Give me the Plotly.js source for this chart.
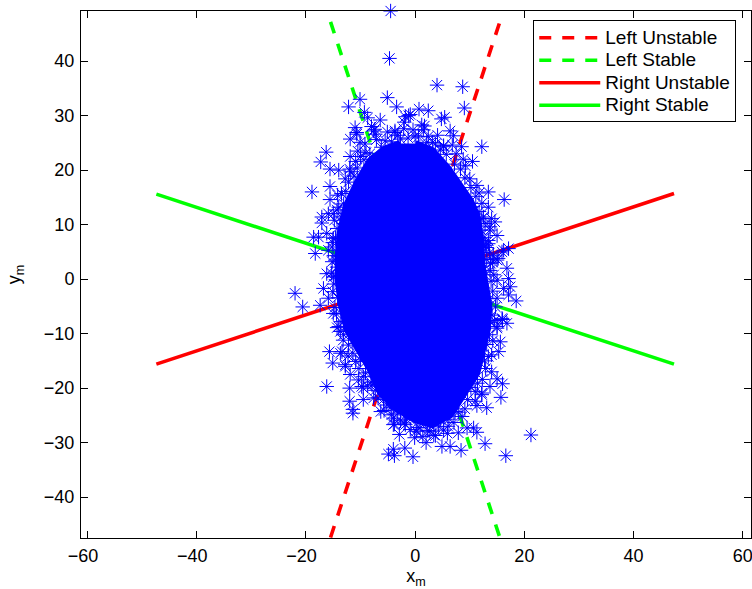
<!DOCTYPE html>
<html>
<head>
<meta charset="utf-8">
<script src="https://cdn.plot.ly/plotly-3.0.1.min.js"></script>
<style>html,body{margin:0;padding:0;background:#fff;overflow:hidden}</style>
</head>
<body>
<div id="chart" style="width:752px;height:589px"></div>
<script>
var leftUnstableX = [-15.5, 15.5];
var leftUnstableY = [-47.4, 47.2];
var leftStableX = [-15.5, 15.5];
var leftStableY = [47.2, -47.4];
var rightUnstableX = [-47.4, 47.4];
var rightUnstableY = [-15.6, 15.7];
var rightStableX = [-47.4, 47.4];
var rightStableY = [15.6, -15.6];

var xTickVals = [-60,-40,-20,0,20,40,60];
var xTickText = ['\u221260\u2002','\u221240\u2002','\u221220\u2002','0','20','40','60'];
var yTickVals = [-40,-30,-20,-10,0,10,20,30,40];

var coreX = [0,3.1,6,7.9,10.1,11.3,12,12.2,13,13.5,13.2,12.3,11.3,8.2,6.4,3.1,0,-3.7,-6.4,-8.2,-10.4,-12.4,-13.5,-14.1,-14.1,-13.7,-12.6,-10.4,-8.2,-5.5,-2.7];
var coreY = [24.9,23.6,20.3,17.6,14.4,11.7,7.1,2.6,-1.1,-4.8,-9.3,-13,-17.2,-22.1,-24.9,-26.7,-25.8,-23.6,-20.7,-16.6,-13,-9.3,-4.8,-0.2,4.4,8.6,13.5,18.1,21.8,23.9,24.9];

var pointX = [-4.5,-4.7,4.0,8.7,-5.1,-10.1,-12.2,9.0,-3.4,-9.3,0.7,2.4,-0.9,-1.8,-6.4,4.8,5.4,-8.7,-2.0,1.2,-11,-7.4,-8,-3.7,6.4,7,-11.9,-10.7,-7.3,12.2,-16.3,-17.3,-15.6,-14,-18.9,-15.6,-14.2,-11.9,-10,8.5,7.5,9.2,10.5,10,11.3,13.4,16.3,11.7,3.7,5.2,0,2.1,
-15.6,-17.1,-17.1,-15.9,-18.6,-17.7,-16.2,-18.3,-15.9,-15,-16.2,-15.2,-16.8,-22,-20.6,-17.4,-15.9,-15,-14,-15.7,-13.7,-15,-14.3,
13.4,12.2,14,14.6,15,13.7,13.4,17.1,15.9,14.3,15.2,16.8,17.1,15,16.2,17.4,17.1,18.5,15,13.7,15.9,16.8,15,15.6,15.3,14,
16,15,14,16,15,13.7,15.7,12.2,13.1,11.3,10.7,11.3,12.8,16.6,8.4,6.4,4.9,2,3.7,5.9,7.9,9.5,21.2,-0.4,7.3,11,0.5,2.7,4.6,6,
-16.2,-15.1,-12,-12,-11.4,-11.4,-9.5,-6.3,-4,-1.8,-2.9,-0.1,-4.9,-4,-3.8,-1.9,-12.8,-10.4,-9.5,-7.6,-4,0.9,2.7,12.2,
-14.3,-13.4,-12.8,-11.9,-13.2,-11,-10,-9.5,-9.8,-7.9,-5.8,-4.6,-3.8,-2,
-1.2,-10.7,-7.6,-3.7,-10.1,-5.5,-2.7,-12,-12.8,-14,-15,-15.2,-14.6,-13.1,
1.5,5.2,12.5,13.7,13.4,16.2,15,
-10.5,-9.2,-8.3,-7.1,-6.2,-5.1,-4.3,-3.2,-2.1,-1.3,-0.4,0.6,1.7,2.4,3.2,4.1,4.6,5.7,6.8,7.2,8.3,9.1,8.8,10.2,
11.1,10.6,12.2,11.7,12.8,12.1,11.9,12.6,12.4,13.1,12.9,13.8,13.9,14.4,14.2,13.6,14.7,14.1,13.8,14.5,13.6,14.2,13.1,13.4,12.7,12.9,12.3,11.4,11,10.2,9.6,9.1,8.6,7.9,7.1,6.2,5.2,4.3,3.4,2.3,1.4,0.2,-0.9,-1.6,-2.7,-3.2,-4.3,-5.2,-5.7,-6.8,-7.3,-8.1,-8.7,-9.1,-10.3,-10.9,-11.4,-12.3,-12.2,-13.1,-13.7,-13.6,-14.4,-14.7,-14.2,-15.1,-14.9,-15.3,-14.6,-14.9,-15.1,-14.6,-14.3,-14.8,-13.6,-14.3,-13.1,-13.5,-12.7,-12.2,-11.2,-11.8,-10.6,-10.9,-9.4,-9,
13.6,14.2,13.1,12.9];
var pointY = [49.2,40.5,35.6,35.3,33.3,33,31.6,31.4,31.6,30.6,31.2,30.9,30.2,29.8,29.2,29.4,29.7,29.6,28.8,28.3,27.8,27.5,28,27.2,27.2,26.3,25.7,26.6,26.6,24.3,23.3,21.5,20.2,20,16,17,15.4,22.5,22.5,24.3,23,20.8,21.6,18.4,17.2,16,14.6,15.8,24.8,24.3,26.3,25.1,
14.6,11.4,10.3,12,7.7,7.7,8.4,4.7,5.3,7.5,1,3.2,-1.7,-2.6,-5.1,-4.8,-3.5,-6.3,-8.7,-13.3,-13.6,0.4,2.2,
13.2,11.1,11.1,10.5,8,9,6.5,5.6,5,4.4,3.8,2,0.1,-0.2,-1.7,-1.4,-2.9,-4,-3.5,1.6,-7.2,-8.1,-8.7,-11.5,-13.3,-13.9,
-7.4,-9,-17,-19.2,-18.3,-19.7,-21.7,-21.2,-23.6,-23.2,-27.3,-28.1,-30.2,-32.4,-31.4,-30.7,-30.7,-30,-28.7,-28.3,-28.2,-27.3,-28.6,-32.6,-24.3,-22.4,-27.2,-26.7,-25.8,-27,
-19.7,-15.4,-20,-22.4,-23.9,-24.6,-22.1,-24.3,-26.7,-26.7,-28.5,-29.1,-32.1,-31.2,-32.4,-31,-15.7,-18.5,-20,-21.8,-25.5,-27.3,-27.9,-20.9,
-8.9,-13.3,-16,-17.5,-11.2,-11.8,-14.8,-17.9,-19.7,-19.4,-22.1,-23.6,-26.6,-26.4,
30,26.9,27.2,26.9,25.1,25.4,25.7,20.2,18.4,13.2,12,5.9,3.5,10.2,
27.4,24.5,11.4,9.6,7.1,5.3,3.5,
23.5,24.8,23,25.6,24.2,27,25.2,26.4,27.6,25.9,27.4,26.1,28.1,26.2,25.1,26.4,23.7,22.9,24.6,21.1,20.2,18.6,22,16.8,
15.2,13.3,13.9,12.4,10.2,9,6.8,7.6,4.9,3.6,1.3,2.9,-0.4,0.8,-2.2,-3.6,-5.1,-6.6,-8,-7.6,-10.2,-11.3,-12,-14.2,-15,-16.4,-18.4,-19.1,-20.6,-19.9,-22.1,-23.8,-25.2,-24.4,-26.3,-25.7,-27.7,-27.1,-28.6,-27.8,-28.9,-27.9,-27.6,-25.7,-26,-24.6,-24.9,-23.1,-24.1,-21.8,-20.4,-18.9,-19.6,-17.2,-16.4,-15.1,-13.6,-14.1,-12.1,-10.2,-9.6,-7.8,-6.4,-5.2,-3.4,-2.3,-0.9,1.1,0.6,4.3,6.7,7.6,9.3,10.8,11.4,12.7,13.8,15.7,16.1,17.8,18.9,19.7,20.4,21.6,21.9,23.2,
4.8,3.1,5.8,6.2];

var dash = '12px,11px';
function legendName(t){ return '<span style="font-size:19px">' + t + '</span>'; }
var traces = [
  {x:leftUnstableX,y:leftUnstableY,mode:'lines',name:legendName('Left Unstable'),line:{color:'#ff0000',width:3.6,dash:dash}},
  {x:leftStableX,y:leftStableY,mode:'lines',name:legendName('Left Stable'),line:{color:'#00ff00',width:3.6,dash:dash}},
  {x:rightUnstableX,y:rightUnstableY,mode:'lines',name:legendName('Right Unstable'),line:{color:'#ff0000',width:3.6}},
  {x:rightStableX,y:rightStableY,mode:'lines',name:legendName('Right Stable'),line:{color:'#00ff00',width:3.6}},
  {x:coreX,y:coreY,mode:'lines',fill:'toself',fillcolor:'#0000ff',line:{color:'#0000ff',width:7},showlegend:false,hoverinfo:'skip'},
  {x:pointX,y:pointY,mode:'markers',cliponaxis:false,showlegend:false,
   marker:{symbol:'asterisk-open',size:12,color:'#0000ff',line:{color:'#0000ff',width:1}}}
];
var tickFont = {family:'"Liberation Sans", Arial, sans-serif',size:18,color:'#000'};
var layout = {
  width:752,height:589,
  margin:{l:81,r:1,t:10.5,b:50.5,pad:0},
  paper_bgcolor:'#fff',plot_bgcolor:'#fff',
  font:tickFont,
  xaxis:{range:[-61.2,61.5],tickmode:'array',tickvals:xTickVals,ticktext:xTickText,ticks:'inside',ticklen:7,tickwidth:1,tickcolor:'#000',
    showline:true,linecolor:'#000',linewidth:1,mirror:'ticks',showgrid:false,zeroline:false,tickfont:tickFont,
    ticklabeloverflow:'allow',ticklabelstandoff:1,
    title:{text:'x<sub>m</sub>',font:tickFont,standoff:7}},
  yaxis:{range:[-47.5,49.2],tickmode:'array',tickvals:yTickVals,ticks:'inside',ticklen:7,tickwidth:1,tickcolor:'#000',
    showline:true,linecolor:'#000',linewidth:1,mirror:'ticks',showgrid:false,zeroline:false,tickfont:tickFont,
    ticklabelstandoff:2,
    title:{text:'y<sub>m</sub>',font:tickFont,standoff:18}},
  legend:{x:0.675,y:0.982,xanchor:'left',yanchor:'top',bgcolor:'#fff',bordercolor:'#000',borderwidth:1,
    font:{family:'"Liberation Sans", Arial, sans-serif',size:15,color:'#000'},itemwidth:61,entrywidth:127,entrywidthmode:'pixels',tracegroupgap:0},
  showlegend:true
};
Plotly.newPlot('chart',traces,layout,{displayModeBar:false,responsive:false});
</script>
</body>
</html>
